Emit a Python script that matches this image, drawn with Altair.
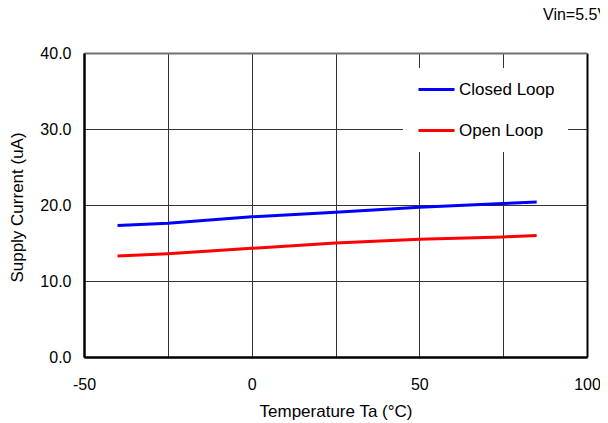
import altair as alt
import pandas as pd

# ---- data ----
temps = [-40, -25, 0, 25, 50, 75, 85]
closed_loop = [17.3, 17.6, 18.45, 19.05, 19.7, 20.2, 20.4]
open_loop = [13.3, 13.6, 14.3, 15.0, 15.5, 15.8, 16.0]
series_names = ["Closed Loop", "Open Loop"]
series_colors = ["#0000FF", "#FF0000"]
x_ticks = [-50, -25, 0, 25, 50, 75, 100]
y_ticks = [0, 10, 20, 30, 40]
note_text = "Vin=5.5V"
x_title = "Temperature Ta (°C)"
y_title = "Supply Current  (uA)"

rows = []
for t, c in zip(temps, closed_loop):
    rows.append({"temp": t, "current": c, "series": series_names[0]})
for t, o in zip(temps, open_loop):
    rows.append({"temp": t, "current": o, "series": series_names[1]})
df = pd.DataFrame(rows)

FONT = "Liberation Sans, Arial, sans-serif"

x_axis = alt.Axis(
    values=x_ticks,
    labelExpr="datum.value % 50 === 0 ? toString(datum.value) : ''",
    labelFlush=False,
    title=x_title,
    grid=True,
    gridColor={"condition": {"test": "datum.value === -50 || datum.value === 100", "value": "#000000"}, "value": "#333333"},
    gridWidth={"condition": {"test": "datum.value === -50 || datum.value === 100", "value": 2}, "value": 1},
    domainColor="#000000",
    domainWidth=2,
    ticks=False,
    tickSize=0,
    labelPadding=19,
    labelFontSize=16,
    labelFont=FONT,
    labelColor="#000000",
    titleFontSize=17,
    titleFont=FONT,
    titleColor="#000000",
    titleFontWeight="normal",
    titleBaseline="alphabetic",
    titleY=59,
)

y_axis = alt.Axis(
    values=y_ticks,
    format=".1f",
    labelFlush=False,
    title=y_title,
    grid=True,
    gridColor={
        "condition": [
            {"test": "datum.value === 0", "value": "#000000"},
            {"test": "datum.value === 40", "value": "#707070"},
        ],
        "value": "#333333",
    },
    gridWidth={"condition": {"test": "datum.value === 0 || datum.value === 40", "value": 2}, "value": 1},
    domainColor="#000000",
    domainWidth=2,
    ticks=False,
    tickSize=0,
    labelPadding=13,
    labelFontSize=16,
    labelFont=FONT,
    labelColor="#000000",
    titleFontSize=17,
    titleFont=FONT,
    titleColor="#000000",
    titleFontWeight="normal",
    titleBaseline="alphabetic",
    titleX=-62,
    titleY=154,
)

chart = (
    alt.Chart(df)
    .mark_line(strokeWidth=3)
    .encode(
        x=alt.X("temp:Q", scale=alt.Scale(domain=[-50, 100], nice=False, zero=False), axis=x_axis),
        y=alt.Y("current:Q", scale=alt.Scale(domain=[0, 40], nice=False), axis=y_axis),
        color=alt.Color(
            "series:N",
            scale=alt.Scale(domain=series_names, range=series_colors),
            legend=alt.Legend(
                title=None,
                orient="none",
                legendX=319,
                legendY=15,
                fillColor="#FFFFFF",
                padding=13,
                symbolType="M-1,0H5",
                symbolSize=144,
                symbolStrokeWidth=3,
                labelFontSize=17,
                labelOffset=26,
                rowPadding=23,
                labelFont=FONT,
                labelColor="#000000",
            ),
        ),
    )
    .properties(
        width=503,
        height=304,
        autosize=alt.AutoSizeParams(type="none"),
        padding={"left": 76, "top": 45, "right": 13, "bottom": 64},
        title=alt.TitleParams(
            text=note_text,
            anchor="start",
            frame="group",
            orient="top",
            dx=459,
            dy=-4,
            offset=5,
            baseline="alphabetic",
            fontSize=16,
            fontWeight="normal",
            font=FONT,
            color="#000000",
        ),
    )
    .configure_view(stroke="transparent")
    .configure(background="#FFFFFF")
)

chart.save("out.html", embed_options={"renderer": "svg", "actions": False})
